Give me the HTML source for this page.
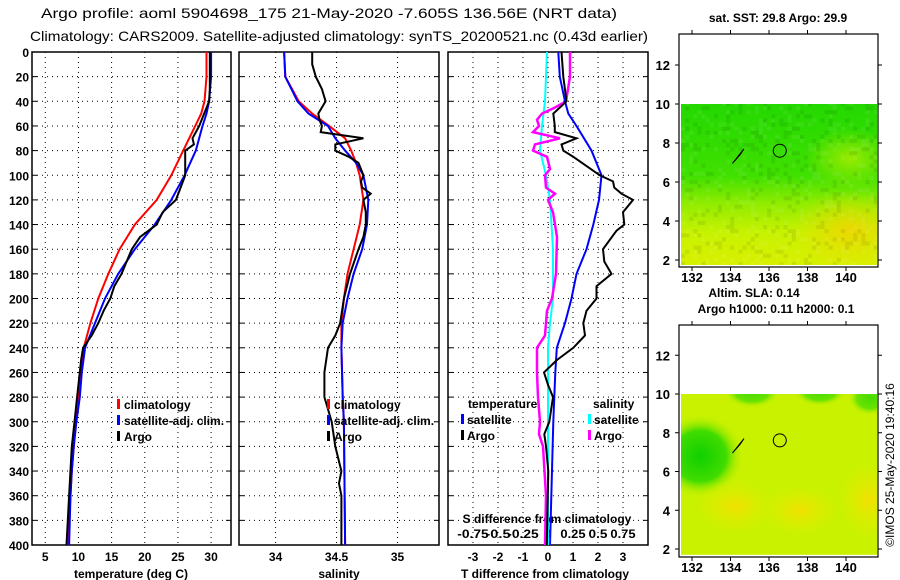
<!DOCTYPE html>
<html><head><meta charset="utf-8"><style>
html,body{margin:0;padding:0;background:#fff;}
svg{display:block;font-family:"Liberation Sans",sans-serif;}
</style></head><body>
<svg id="c" width="900" height="580" viewBox="0 0 900 580">
<text x="41" y="18" font-size="14" textLength="576" lengthAdjust="spacingAndGlyphs">Argo profile: aoml 5904698_175 21-May-2020 -7.605S 136.56E (NRT data)</text>
<text x="30" y="41" font-size="14" textLength="618" lengthAdjust="spacingAndGlyphs">Climatology: CARS2009. Satellite-adjusted climatology: synTS_20200521.nc (0.43d earlier)</text>
<defs>
<clipPath id="m1c"><rect x="681" y="104" width="196" height="161"/></clipPath>
<clipPath id="m2c"><rect x="681" y="394" width="196" height="161"/></clipPath>
</defs>
</svg>
<script>
const depthsT = [0,20,40,50,60,80,100,120,140,160,180,200,220,240,260,280,300,320,340,360,380,400];
const tempClim = [29.3,29.3,29.0,28.5,27.6,25.8,24.0,21.8,18.5,16.2,14.5,13.0,11.8,10.8,10.3,10.0,9.6,9.3,9.0,8.8,8.6,8.5];
const tempSat  = [30.0,30.0,29.7,29.3,28.7,27.7,26.0,24.0,21.5,18.5,16.0,14.0,12.5,11.0,10.5,10.2,9.7,9.3,9.0,8.8,8.7,8.6];
const depthsArgoT = [0,30,40,60,70,75,80,100,110,120,130,140,150,160,180,190,200,210,220,230,240,250,280,300,320,360,400];
const tempArgo = [29.8,29.8,29.7,28.2,27.2,27.4,26.1,26.1,25.4,24.7,22.7,21.8,19.3,18.05,16.5,15.4,14.8,13.8,13.0,12.0,10.7,10.4,9.8,9.4,9.0,8.6,8.2];
const depthsS = [0,20,40,50,60,70,80,90,100,120,140,160,180,200,220,240,280,300,400];
const salClim = [34.07,34.08,34.19,34.30,34.44,34.57,34.62,34.66,34.69,34.72,34.69,34.64,34.59,34.56,34.54,34.54,34.55,34.56,34.57];
const salSat  = [34.07,34.08,34.18,34.27,34.43,34.49,34.57,34.66,34.72,34.76,34.75,34.71,34.64,34.59,34.55,34.54,34.55,34.56,34.57];
const depthsArgoS = [0,10,20,30,40,45,50,55,60,65,70,75,80,85,90,100,105,110,115,120,130,140,150,160,180,200,220,230,240,260,280,300,320,340,350,360,400];
const salArgo = [34.30,34.30,34.33,34.38,34.41,34.38,34.35,34.36,34.38,34.37,34.72,34.49,34.49,34.60,34.68,34.72,34.70,34.71,34.78,34.72,34.74,34.74,34.72,34.68,34.61,34.56,34.53,34.49,34.43,34.40,34.40,34.46,34.49,34.54,34.52,34.54,34.54];
const depthsDT = [0,20,40,50,60,80,100,120,140,160,180,200,220,240,260,300,400];
const dTsat = [0.41,0.47,0.68,0.81,1.14,1.74,2.14,2.04,1.81,1.54,1.14,0.94,0.68,0.35,0.29,0.21,0.08];
const depthsDTA = [0,20,40,50,60,65,70,75,80,85,100,105,110,115,120,130,140,145,160,170,180,190,200,210,220,230,240,250,260,270,280,300,310,320,340,400];
const dTargo = [0.54,0.61,0.74,0.21,0.27,0.27,1.14,0.54,0.61,1.01,2.07,2.6,2.65,2.94,3.40,3.0,3.05,2.74,2.2,2.25,2.54,1.94,1.94,1.54,1.41,1.48,1.01,0.35,-0.16,0.0,0.2,0.05,-0.15,-0.08,0.01,-0.05];
const depthsDS = [0,40,60,80,100,120,160,200,220,240,300,400];
const dSsat = [-0.01,-0.03,-0.06,-0.08,-0.02,0.02,0.05,0.05,0.02,0.0,0.0,0.0];
const depthsDSA = [0,20,40,45,50,55,60,65,70,75,80,85,95,100,110,115,120,130,150,180,200,210,230,240,260,280,300,310,320,360,400];
const dSargo = [0.22,0.22,0.18,0.07,-0.06,-0.11,-0.09,-0.15,0.12,-0.13,-0.15,-0.01,0.02,-0.03,-0.02,0.07,0.0,0.05,0.09,0.08,0.04,-0.01,-0.03,-0.11,-0.11,-0.10,-0.08,-0.09,-0.05,-0.02,-0.03];
const depthTicks = [0,20,40,60,80,100,120,140,160,180,200,220,240,260,280,300,320,340,360,380,400];
const tempTicks = [5,10,15,20,25,30];
const salTicks = [34,34.5,35];
const dTTicks = [-3,-2,-1,0,1,2,3];
const dSTicks = [-0.75,-0.5,-0.25,0,0.25,0.5,0.75];
const dSTickLabels = ['-0.75','-0.5','-0.25','0','0.25','0.5','0.75'];
const mapLonTicks = [132,134,136,138,140];
const mapLatTicks = [2,4,6,8,10,12];
const argoLon = 136.56, argoLat = 7.605;

const svg = document.getElementById('c');
const NS = 'http://www.w3.org/2000/svg';
function mk(tag, at, parent){const e=document.createElementNS(NS,tag);for(const k in at)e.setAttribute(k,at[k]);(parent||svg).appendChild(e);return e;}
const Y0=52, Y1=545;
const yD = d => Y0 + d*(Y1-Y0)/400;
function lin(d0,d1,r0,r1){return v=>r0+(v-d0)*(r1-r0)/(d1-d0);}
const xT = lin(3,33,32,231);
const xS = lin(33.7,35.34,239,439);
const xDT = lin(-4,4,448,648);
const xDS = s => xDT(s*4);

function panel(name,x0,x1,xs,ticks,labelLeft){
  const g=mk('g',{});
  
  
  depthTicks.forEach(d=>{ if(d>0&&d<400){const l=mk('line',{x1:x0,x2:x1,y1:yD(d),y2:yD(d),stroke:'#000','stroke-width':1,'stroke-dasharray':'1,4'},g);
    }
    mk('line',{x1:x0,x2:x0+5,y1:yD(d),y2:yD(d),stroke:'#000'},g);
    mk('line',{x1:x1-5,x2:x1,y1:yD(d),y2:yD(d),stroke:'#000'},g);
    if(labelLeft){const t=mk('text',{x:x0-3,y:yD(d)+5,'font-size':12,'font-weight':'bold','text-anchor':'end'},g);t.textContent=d;
      }
  });
  ticks.forEach(v=>{const x=xs(v);const l=mk('line',{x1:x,x2:x,y1:Y0,y2:Y1,stroke:'#000','stroke-dasharray':'1,4'},g);
    });
  mk('rect',{x:x0,y:Y0,width:x1-x0,height:Y1-Y0,fill:'none',stroke:'#000','stroke-width':1.5},g);
  return g;
}
function line(xs,ys,xf,color,w,name){
  const pts=xs.map((v,i)=>xf(v).toFixed(1)+','+yD(ys[i]).toFixed(1)).join(' ');
  const p=mk('polyline',{points:pts,fill:'none',stroke:color,'stroke-width':w});
  
  
}
function txt(x,y,s,size,anchor,name,extra){const t=mk('text',Object.assign({x:x,y:y,'font-size':size,'font-weight':'bold','text-anchor':anchor||'start'},extra||{}));t.textContent=s;
  return t;}

panel('temperature-panel',32,231,xT,tempTicks,true);
tempTicks.forEach(v=>txt(xT(v),561,String(v),12,'middle','temperature-tick-label'));
txt(131,578,'temperature (deg C)',12,'middle','temperature-axis-title');
line(tempClim,depthsT,xT,'#f00',2,'temperature-climatology-line');
line(tempSat,depthsT,xT,'#00f',2,'temperature-satellite-line');
line(tempArgo,depthsArgoT,xT,'#000',2,'temperature-argo-line');
function legend3(x,y,labels,colors,prefix){
  labels.forEach((s,i)=>{const r=mk('rect',{x:x,y:y+i*16-10,width:3,height:10,fill:colors[i]});
    
    txt(x+7,y+i*16,s,12,'start',prefix+'-legend-label');});
}
legend3(117,409,['climatology','satellite-adj. clim.','Argo'],['#f00','#00f','#000'],'temperature');

panel('salinity-panel',239,439,xS,salTicks,false);
salTicks.forEach(v=>txt(xS(v),561,String(v),12,'middle','salinity-tick-label'));
txt(339,578,'salinity',12,'middle','salinity-axis-title');
line(salClim,depthsS,xS,'#f00',2,'salinity-climatology-line');
line(salSat,depthsS,xS,'#00f',2,'salinity-satellite-line');
line(salArgo,depthsArgoS,xS,'#000',2,'salinity-argo-line');
legend3(327,409,['climatology','satellite-adj. clim.','Argo'],['#f00','#00f','#000'],'salinity');

panel('difference-panel',448,648,xDT,dTTicks,false);
dTTicks.forEach(v=>txt(xDT(v),561,String(v),12,'middle','t-difference-tick-label'));
txt(545,578,'T difference from climatology',12,'middle','t-difference-axis-title');
txt(547,523,'S difference from climatology',12,'middle','s-difference-axis-title');
dSTicks.forEach((v,i)=>txt(xDS(v),538,dSTickLabels[i],12,'middle','s-difference-tick-label',{textLength:String(dSTickLabels[i].length*6.3),lengthAdjust:'spacingAndGlyphs'}));
line(dSsat,depthsDS,xDS,'#0ff',2,'salinity-satellite-difference-line');
line(dSargo,depthsDSA,xDS,'#f0f',2.5,'salinity-argo-difference-line');
line(dTsat,depthsDT,xDT,'#00f',2,'temperature-satellite-difference-line');
line(dTargo,depthsDTA,xDT,'#000',2,'temperature-argo-difference-line');
txt(468,408,'temperature',12,'start','difference-legend-temperature-heading');
txt(593,408,'salinity',12,'start','difference-legend-salinity-heading');
[['satellite','#00f',461,424],['Argo','#000',461,440],['satellite','#0ff',588,424],['Argo','#f0f',588,440]].forEach(a=>{
  const r=mk('rect',{x:a[2],y:a[3]-10,width:3,height:10,fill:a[1]});
  
  txt(a[2]+6,a[3],a[0],12,'start','difference-legend-label');
});

function map(name,top,bot,latYfn,kind){
  const g=mk('g',{});
  
  const xl=lin(132,140,692,846);
  const clip = kind===1?'url(#m1c)':'url(#m2c)';
  const cg=mk('g',{'clip-path':clip},g);
  const cy0=latYfn(10.1), cy1=latYfn(1.7);
  if(kind===1){
    const lg=mk('linearGradient',{id:'g1',x1:0,y1:0,x2:0,y2:1},cg);
    [['0','#22d800'],['0.45','#40e000'],['0.62','#90ec00'],['0.8','#c8f200'],['1','#d8f000']].forEach(s=>mk('stop',{offset:s[0],'stop-color':s[1]},lg));
    mk('rect',{x:681,y:cy0,width:196,height:cy1-cy0,fill:'url(#g1)'},cg);
    const rg=mk('radialGradient',{id:'o1'},cg);
    mk('stop',{offset:0,'stop-color':'#f0d400','stop-opacity':0.9},rg);mk('stop',{offset:1,'stop-color':'#e8e000','stop-opacity':0},rg);
    mk('ellipse',{cx:850,cy:latYfn(3.5),rx:60,ry:40,fill:'url(#o1)'},cg);
    const ry=mk('radialGradient',{id:'y1'},cg);
    mk('stop',{offset:0,'stop-color':'#b0ee00','stop-opacity':0.8},ry);mk('stop',{offset:1,'stop-color':'#b0ee00','stop-opacity':0},ry);
    mk('ellipse',{cx:850,cy:latYfn(7.2),rx:45,ry:30,fill:'url(#y1)'},cg);
    // mottled texture
    for(let i=0;i<48;i++)for(let j=0;j<40;j++){
      const h=Math.sin(i*12.9898+j*78.233)*43758.5453; const f=h-Math.floor(h);
      if(f>0.72){mk('rect',{x:681+i*4.1,y:cy0+j*4.1,width:4.1,height:4.1,fill:f>0.86?'#ffffff':'#000000',opacity:0.07},cg);}
    }
  } else {
    mk('rect',{x:681,y:cy0,width:196,height:cy1-cy0,fill:'#c8f200'},cg);
    const rg=mk('radialGradient',{id:'gb'},cg);
    mk('stop',{offset:0,'stop-color':'#10d000'},rg);mk('stop',{offset:0.6,'stop-color':'#40dc00'},rg);mk('stop',{offset:1,'stop-color':'#c8f200','stop-opacity':0},rg);
    mk('ellipse',{cx:700,cy:latYfn(6.8),rx:44,ry:42,fill:'url(#gb)'},cg);
    [[752,10.1,28,16],[820,10.1,26,14],[870,9.8,22,18]].forEach(b=>mk('ellipse',{cx:b[0],cy:latYfn(b[1]),rx:b[2],ry:b[3],fill:'url(#gb)',opacity:0.7},cg));
    const ro=mk('radialGradient',{id:'oy'},cg);
    mk('stop',{offset:0,'stop-color':'#f2e000'},ro);mk('stop',{offset:1,'stop-color':'#e0f000','stop-opacity':0},ro);
    [[735,4.2,40,28],[800,4.0,40,26],[868,4.5,30,40]].forEach(b=>mk('ellipse',{cx:b[0],cy:latYfn(b[1]),rx:b[2],ry:b[3],fill:'url(#oy)'},cg));
  }
  mk('path',{d:`M${xl(134.1)} ${latYfn(6.95)} L${xl(134.7)} ${latYfn(7.7)} L${xl(134.5)} ${latYfn(7.4)} Z`,fill:'#fff',stroke:'#000','stroke-width':1},g);
  mk('rect',{x:679,y:top,width:199,height:bot-top,fill:'none',stroke:'#000','stroke-width':1.2},g);
  mapLonTicks.forEach(v=>{mk('line',{x1:xl(v),x2:xl(v),y1:bot,y2:bot+4,stroke:'#000'},g);mk('line',{x1:xl(v),x2:xl(v),y1:top-4,y2:top,stroke:'#000'},g);
    txt(xl(v),bot+15,String(v),13,'middle',name+'-lon-tick-label');});
  mapLatTicks.forEach(v=>{const y=latYfn(v);mk('line',{x1:675,x2:679,y1:y,y2:y,stroke:'#000'},g);mk('line',{x1:878,x2:882,y1:y,y2:y,stroke:'#000'},g);
    txt(670,y+5,String(v),13,'end',name+'-lat-tick-label');});
  const c=mk('circle',{cx:xl(argoLon),cy:latYfn(argoLat),r:6.5,fill:'none',stroke:'#000','stroke-width':1},g);
  
}
const lat1=lin(10,2,104,260), lat2=lin(10,2,394,549);
map('sst-map',34,267,lat1,1);
map('sla-map',325,557,lat2,2);
txt(778,22,'sat. SST: 29.8 Argo: 29.9',12,'middle','sst-map-title');
txt(754,297,'Altim. SLA: 0.14',12,'middle','sla-map-title');
txt(776,313,'Argo h1000: 0.11 h2000: 0.1',12,'middle','argo-height-title');
txt(894,465,'©IMOS 25-May-2020 19:40:16',12,'middle','imos-timestamp',{transform:'rotate(-90 894 465)','font-weight':'normal'});
</script>
</body></html>
